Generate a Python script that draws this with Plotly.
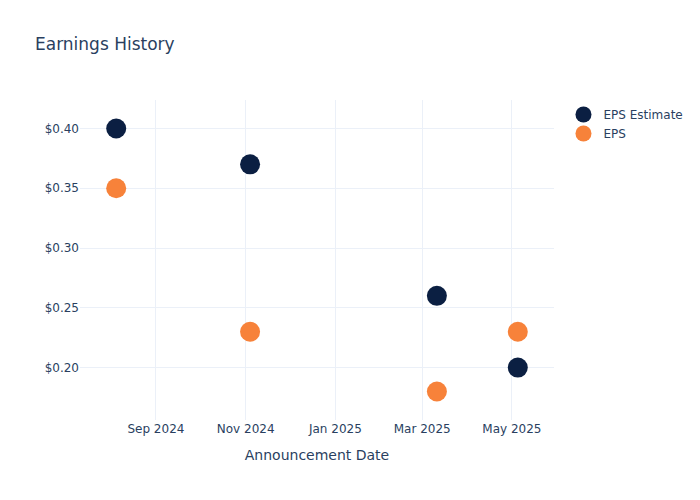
import plotly.graph_objects as go

dates = ["2024-08-05", "2024-11-04", "2025-03-11", "2025-05-05"]
eps_estimate = [0.40, 0.37, 0.26, 0.20]
eps_actual = [0.35, 0.23, 0.18, 0.23]

fig = go.Figure()
fig.add_trace(go.Scatter(x=dates, y=eps_estimate, mode="markers", name="EPS Estimate",
                         marker=dict(size=20, color="#0B1F42")))
fig.add_trace(go.Scatter(x=dates, y=eps_actual, mode="markers", name="EPS",
                         marker=dict(size=20, color="#F7823A")))
fig.update_layout(
    width=700, height=500,
    template="plotly_white",
    font=dict(family="DejaVu Sans"),
    title=dict(text="Earnings History"),
    xaxis=dict(title=dict(text="Announcement Date"), dtick="M2", tickformat="%b %Y"),
    yaxis=dict(tickprefix="$", tickformat=".2f"),
)
fig.write_html("out.html", config={"displayModeBar": False},
               post_script="document.body.style.margin='0';")
